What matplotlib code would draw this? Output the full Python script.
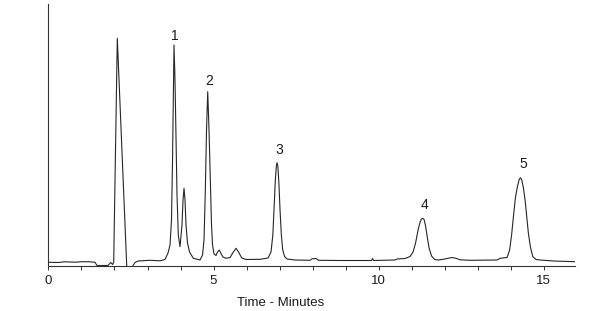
import matplotlib
matplotlib.use("Agg")
import matplotlib.pyplot as plt
from matplotlib.ticker import MultipleLocator

plt.rcParams['font.family'] = ['Liberation Sans', 'DejaVu Sans']

# detector trace (time in minutes, signal in arbitrary units)
time_min = [
    0.000, 0.288, 0.500, 0.803, 1.015, 1.258, 1.409, 1.470, 1.803, 1.885,
    1.945, 1.976, 2.085, 2.370, 2.409, 2.530, 2.561, 2.621, 2.712, 3.076,
    3.379, 3.530, 3.621, 3.682, 3.727, 3.758, 3.782, 3.803, 3.833, 3.864,
    3.894, 3.933, 3.985, 4.045, 4.076, 4.106, 4.136, 4.167, 4.212, 4.273,
    4.388, 4.591, 4.667, 4.712, 4.752, 4.788, 4.824, 4.864, 4.903, 4.939,
    4.970, 5.015, 5.076, 5.121, 5.173, 5.227, 5.288, 5.379, 5.500, 5.591,
    5.682, 5.758, 5.855, 5.985, 6.409, 6.652, 6.742, 6.797, 6.833, 6.873,
    6.903, 6.924, 6.948, 6.979, 7.015, 7.055, 7.097, 7.152, 7.227, 7.470,
    7.924, 7.985, 8.106, 8.182, 8.833, 9.788, 9.818, 9.848, 10.500, 10.561,
    10.803, 10.955, 11.045, 11.121, 11.197, 11.258, 11.303, 11.339, 11.379, 11.424,
    11.470, 11.530, 11.606, 11.697, 11.803, 11.924, 12.076, 12.227, 12.348, 12.470,
    12.773, 13.591, 13.682, 13.894, 13.970, 14.030, 14.085, 14.145, 14.206, 14.258,
    14.297, 14.339, 14.388, 14.439, 14.491, 14.539, 14.600, 14.673, 14.773, 14.894,
    15.297, 15.955,
]
signal = [
    3.2, 3.0, 3.7, 3.3, 3.8, 3.7, 3.2, 0.0, 0.0, 3.0,
    1.0, 3.5, 227.2, 0.0, -3.0, -3.0, 0.0, 3.0, 4.5, 5.2,
    4.7, 6.0, 12.5, 20.5, 45.5, 105.5, 165.5, 220.5, 185.5, 125.5,
    70.5, 30.5, 18.8, 40.5, 65.5, 77.2, 65.5, 40.5, 22.5, 13.5,
    7.2, 5.5, 10.5, 25.5, 75.5, 135.5, 173.8, 135.5, 85.5, 40.5,
    20.5, 11.5, 10.0, 13.5, 15.5, 12.0, 8.5, 7.2, 8.0, 13.0,
    17.2, 13.5, 7.5, 6.0, 6.2, 7.5, 13.5, 30.5, 55.5, 85.5,
    99.5, 102.8, 99.5, 83.5, 55.5, 30.5, 15.5, 9.0, 6.5, 5.5,
    5.2, 6.7, 7.0, 5.2, 5.0, 5.0, 7.0, 5.0, 5.5, 6.5,
    7.0, 9.0, 13.5, 22.5, 35.5, 43.5, 46.7, 47.2, 46.0, 39.5,
    29.5, 17.5, 9.5, 6.0, 5.5, 6.0, 7.0, 8.0, 7.2, 5.7,
    5.2, 5.5, 7.2, 8.0, 15.5, 30.5, 48.8, 67.5, 78.8, 86.0,
    87.8, 85.5, 77.5, 65.5, 48.5, 32.2, 18.5, 8.8, 6.0, 5.5,
    4.5, 3.8,
]

# numbered peaks
peak_labels = ['1', '2', '3', '4', '5']
peak_label_time = [3.83, 4.86, 6.99, 11.39, 14.39]
peak_label_signal = [229.5, 184.5, 116.0, 61.0, 102.0]

fig = plt.figure(figsize=(5.97, 3.11), dpi=100)
ax = fig.add_axes([0.0812, 0.1463, 0.8819, 0.8408])

ax.plot(time_min, signal, color='#262626', lw=0.8)

for lab, t, s in zip(peak_labels, peak_label_time, peak_label_signal):
    ax.text(t, s, lab, ha='center', va='center', fontsize=10, color='#1a1a1a')

ax.set_xlim(0, 15.95)
ax.set_ylim(0, 261.5)

for side in ['top', 'right']:
    ax.spines[side].set_visible(False)
for side in ['left', 'bottom']:
    ax.spines[side].set_linewidth(0.8)
    ax.spines[side].set_color('#333333')

ax.set_yticks([])
ax.xaxis.set_major_locator(MultipleLocator(5))
ax.xaxis.set_minor_locator(MultipleLocator(1))
ax.tick_params(axis='x', which='both', direction='out', length=3, width=0.7,
               color='#333333', labelsize=9.5, labelcolor='#1a1a1a', pad=3.5)

ax.set_xlabel('Time - Minutes', fontsize=9.5, labelpad=7.5, color='#1a1a1a')
ax.xaxis.label.set_x(0.4416)

fig.savefig('out.png', dpi=100)
